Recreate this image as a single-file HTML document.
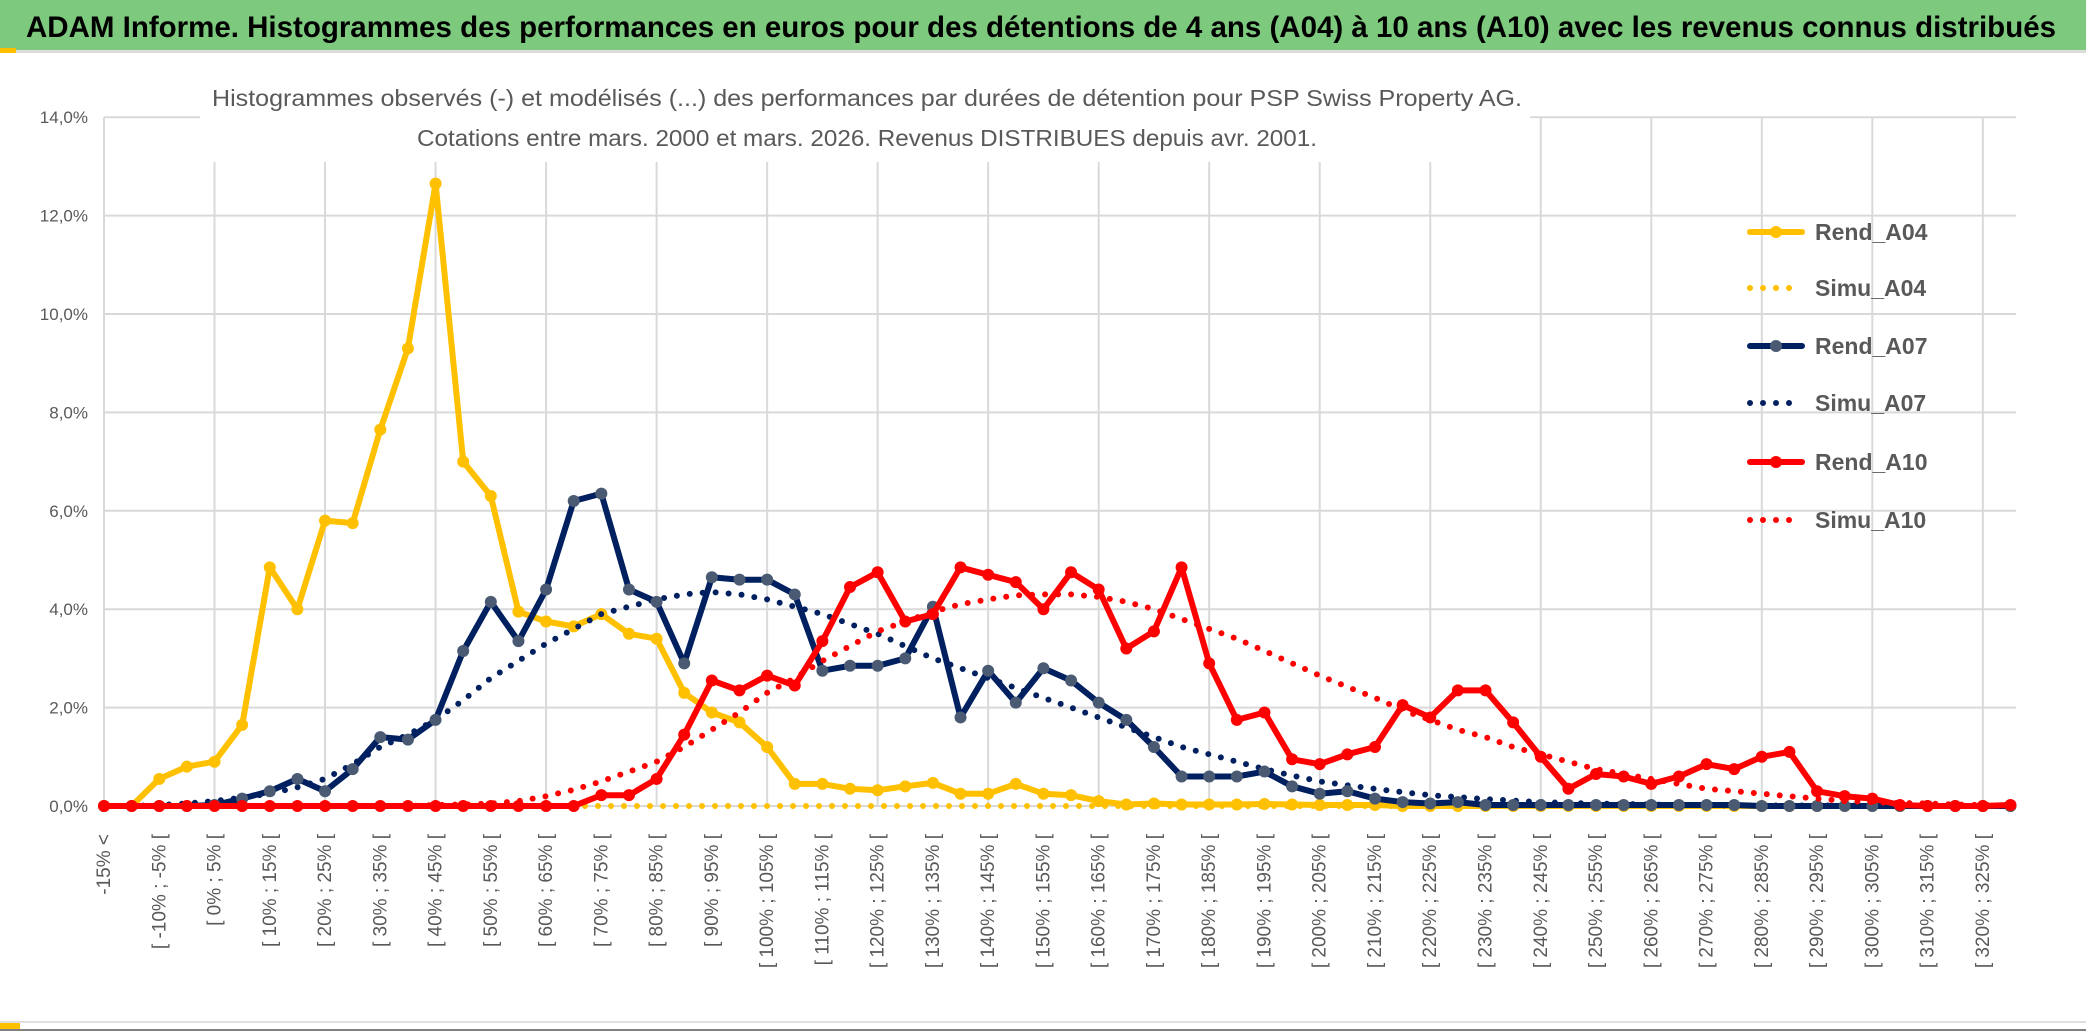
<!DOCTYPE html>
<html><head><meta charset="utf-8">
<style>
html,body{margin:0;padding:0;background:#fff;}
svg{display:block;font-family:"Liberation Sans",sans-serif;}
</style></head>
<body>
<svg id="chart" width="2086" height="1031" viewBox="0 0 2086 1031" xmlns="http://www.w3.org/2000/svg">
  <rect x="0" y="0" width="2086" height="1031" fill="#fff"/>
  <rect x="0" y="0" width="2086" height="50" fill="#7dc97d"/>
  <rect x="0" y="50" width="2086" height="3" fill="#dcdcdc"/>
  <rect x="0" y="48" width="16" height="5" fill="#ffc000"/>
  <text x="26" y="37" font-size="30" font-weight="bold" fill="#000" textLength="2030" lengthAdjust="spacingAndGlyphs">ADAM Informe. Histogrammes des performances en euros pour des détentions de 4 ans (A04) à 10 ans (A10) avec les revenus connus distribués</text>
  <g id="grid"></g>
  <rect x="200" y="82" width="1330" height="80" fill="#fff"/>
  <text x="867" y="106" font-size="23" fill="#595959" text-anchor="middle" textLength="1310" lengthAdjust="spacingAndGlyphs">Histogrammes observés (-) et modélisés (...) des performances par durées de détention pour PSP Swiss Property AG.</text>
  <text x="867" y="146" font-size="23" fill="#595959" text-anchor="middle" textLength="900" lengthAdjust="spacingAndGlyphs">Cotations entre mars. 2000 et mars. 2026. Revenus DISTRIBUES depuis avr. 2001.</text>
  <g id="yaxis"></g>
  <g id="xaxis"></g>
  <g id="series"></g>
  <g id="legend"></g>
  <rect x="0" y="1021" width="2086" height="2" fill="#e0e0e0"/>
  <rect x="0" y="1023" width="20" height="6" fill="#ffc000"/>
  <rect x="0" y="1029" width="2086" height="2" fill="#808080"/>
</svg>
<script>
const rendA04 = [0,0,0.55,0.8,0.9,1.65,4.85,4.0,5.8,5.75,7.65,9.3,12.65,7.0,6.3,3.95,3.75,3.65,3.9,3.5,3.4,2.3,1.9,1.7,1.2,0.45,0.45,0.35,0.32,0.4,0.47,0.25,0.25,0.45,0.25,0.22,0.1,0.03,0.05,0.03,0.03,0.03,0.04,0.03,0.02,0.02,0.02,0,0,0,0,0,0,0,0,0,0,0,0,0,0,0,0,0,0,0,0,0,0,0];
const simuA04 = [0,0,0,0,0,0,0,0,0,0,0,0,0,0,0,0,0,0,0,0,0,0,0,0,0,0,0,0,0,0,0,0,0,0,0,0,0,0,0,0,0,0,0,0,0,0,0,0,0,0,0,0,0,0,0,0,0,0,0,0,0,0,0,0,0,0,0,0,0,0];
const rendA07 = [0,0,0,0,0.02,0.15,0.3,0.55,0.3,0.75,1.4,1.35,1.75,3.15,4.15,3.35,4.4,6.2,6.35,4.4,4.15,2.9,4.65,4.6,4.6,4.3,2.75,2.85,2.85,3.0,4.05,1.8,2.75,2.1,2.8,2.55,2.1,1.75,1.2,0.6,0.6,0.6,0.7,0.4,0.25,0.3,0.15,0.08,0.05,0.08,0.02,0.02,0.02,0.02,0.02,0.02,0.02,0.02,0.02,0.02,0,0,0,0,0,0,0,0,0,0];
const simuA07 = [0,0,0.02,0.05,0.1,0.17,0.25,0.38,0.55,0.85,1.2,1.45,1.75,2.15,2.6,2.95,3.3,3.6,3.9,4.05,4.2,4.3,4.35,4.3,4.2,4.05,3.9,3.7,3.5,3.25,3.0,2.8,2.6,2.4,2.2,2.0,1.8,1.6,1.4,1.2,1.05,0.9,0.75,0.62,0.5,0.42,0.35,0.28,0.22,0.18,0.14,0.11,0.08,0.06,0.05,0.04,0.03,0.02,0.02,0.01,0.01,0.01,0.01,0.01,0,0,0,0,0,0];
const rendA10 = [0,0,0,0,0,0,0,0,0,0,0,0,0,0,0,0,0,0,0.22,0.22,0.55,1.45,2.55,2.35,2.65,2.45,3.35,4.45,4.75,3.75,3.9,4.85,4.7,4.55,4.0,4.75,4.4,3.2,3.55,4.85,2.9,1.75,1.9,0.95,0.85,1.05,1.2,2.05,1.8,2.35,2.35,1.7,1.0,0.35,0.65,0.6,0.45,0.6,0.85,0.75,1.0,1.1,0.3,0.2,0.15,0.02,0,0,0,0.02];
const simuA10 = [0,0,0,0,0,0,0,0,0,0,0,0,0.02,0.03,0.05,0.1,0.2,0.33,0.5,0.7,0.9,1.2,1.55,1.9,2.3,2.6,2.95,3.25,3.55,3.75,3.95,4.1,4.2,4.28,4.3,4.3,4.25,4.15,4.0,3.8,3.6,3.4,3.15,2.9,2.65,2.42,2.2,1.95,1.75,1.55,1.4,1.2,1.05,0.9,0.75,0.65,0.55,0.45,0.35,0.3,0.25,0.2,0.15,0.1,0.08,0.06,0.05,0.03,0.02,0.01];
const yTicks = [0,2,4,6,8,10,12,14];
const categories = ["-15% <"];
for (let k = 1; k < 70; k++) { const a = -20 + 5*k; categories.push("[ " + a + "% ; " + (a+5) + "% ["); }

const NS = "http://www.w3.org/2000/svg";
const X0 = 104, STEP = 27.63, Y0 = 806, PPU = 49.2, XR = 2016;
const xS = i => X0 + i*STEP;
const yS = v => Y0 - v*PPU;
function mk(tag, attrs, parent) { const e = document.createElementNS(NS, tag); for (const k in attrs) e.setAttribute(k, attrs[k]); parent.appendChild(e); return e; }

const grid = document.getElementById('grid');
yTicks.forEach(t => {
  const l = mk('line', {x1:X0, x2:XR, y1:yS(t), y2:yS(t), stroke:'#d9d9d9', 'stroke-width':2}, grid);
  
  
});
for (let i = 0; i < categories.length; i += 4) {
  const l = mk('line', {x1:xS(i), x2:xS(i), y1:yS(14), y2:Y0, stroke:'#d9d9d9', 'stroke-width':2}, grid);
  
  
}
const yaxis = document.getElementById('yaxis');
yTicks.forEach(t => {
  const tx = mk('text', {x:88, y:yS(t)+6, 'font-size':17, fill:'#595959', 'text-anchor':'end'}, yaxis);
  tx.textContent = t.toFixed(1).replace('.', ',') + '%';
  
  
});
const xaxis = document.getElementById('xaxis');
categories.forEach((c, i) => {
  if (i % 2 !== 0) return;
  const x = xS(i) + 6;
  const tx = mk('text', {x:x, y:834, 'font-size':19, fill:'#595959', 'text-anchor':'end', transform:'rotate(-90 ' + x + ' 834)'}, xaxis);
  tx.textContent = c;
  
  
});

const series = document.getElementById('series');
function drawSeries(vals, color, dotted, markerColor, name) {
  const g = mk('g', {}, series);
  
  
  const pts = vals.map((v, i) => xS(i).toFixed(1) + ',' + yS(v).toFixed(1)).join(' ');
  const attrs = {points:pts, fill:'none', stroke:color, 'stroke-width':6, 'stroke-linejoin':'round', 'stroke-linecap':'round'};
  if (dotted) { attrs['stroke-dasharray'] = '0 13'; }
  const pl = mk('polyline', attrs, g);
  
  
  if (!dotted) {
    vals.forEach((v, i) => {
      const c = mk('circle', {cx:xS(i), cy:yS(v), r:6, fill:markerColor}, g);
      
      
    });
  }
}
drawSeries(simuA04, '#ffc000', true, null, 'simu-a04');
drawSeries(rendA04, '#ffc000', false, '#ffc000', 'rend-a04');
drawSeries(simuA07, '#002060', true, null, 'simu-a07');
drawSeries(rendA07, '#002060', false, '#4a5a72', 'rend-a07');
drawSeries(simuA10, '#ff0000', true, null, 'simu-a10');
drawSeries(rendA10, '#ff0000', false, '#ff0000', 'rend-a10');

const legend = document.getElementById('legend');
const legendItems = [
  ['Rend_A04', '#ffc000', false, '#ffc000'],
  ['Simu_A04', '#ffc000', true, null],
  ['Rend_A07', '#002060', false, '#4a5a72'],
  ['Simu_A07', '#002060', true, null],
  ['Rend_A10', '#ff0000', false, '#ff0000'],
  ['Simu_A10', '#ff0000', true, null]
];
const legendY = [232, 288, 346, 403, 462, 520];
legendItems.forEach((it, k) => {
  const g = mk('g', {}, legend);
  
  
  const y = legendY[k];
  const a = {x1:1750, x2:1802, y1:y, y2:y, stroke:it[1], 'stroke-width':6, 'stroke-linecap':'round'};
  if (it[2]) a['stroke-dasharray'] = '0 13';
  mk('line', a, g);
  if (!it[2]) mk('circle', {cx:1776, cy:y, r:6, fill:it[3]}, g);
  const tx = mk('text', {x:1815, y:y+8, 'font-size':23, 'font-weight':'bold', fill:'#595959'}, g);
  tx.textContent = it[0];
});
</script>
</body></html>
